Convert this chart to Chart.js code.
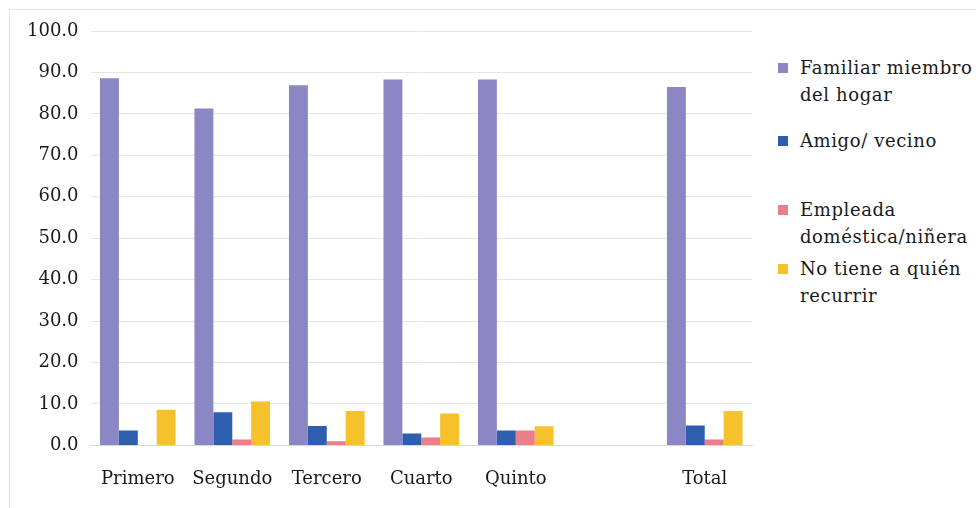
<!DOCTYPE html>
<html>
<head>
<title>Cuidado por quintil</title>
<script src="https://cdn.jsdelivr.net/npm/chart.js"></script>
<style>
  body { margin: 0; background: #fff; overflow: hidden; font-family: "DejaVu Serif", "Liberation Serif", serif; }
  #frame { position: absolute; left: 9px; top: 9px; width: 966px; height: 498px; border: 1px solid #e4e4e4; border-right: none; border-bottom: none; }
  #wrap { position: absolute; left: 0; top: 0; width: 760px; height: 517px; }
  #legend { position: absolute; left: 778px; top: 0; width: 198px; color: #1a1a1a; font-size: 18px; line-height: 27px; letter-spacing: 0.6px; white-space: nowrap; }
  .item { position: absolute; left: 0; padding-left: 22px; }
  .sw { position: absolute; left: 0; top: 9px; width: 10px; height: 10px; }
</style>
</head>
<body>
<div id="frame"></div>
<div id="wrap"><canvas id="chart"></canvas></div>
<div id="legend"></div>
<script>
// quintiles + gap + total
const categories = ['Primero', 'Segundo', 'Tercero', 'Cuarto', 'Quinto', '', 'Total'];
const familiar = [88.6, 81.3, 86.9, 88.3, 88.3, null, 86.5];
const amigo    = [3.6, 8.0, 4.7, 2.9, 3.6, null, 4.8];
const empleada = [0.0, 1.4, 1.0, 1.9, 3.6, null, 1.4];
const nadie    = [8.6, 10.6, 8.3, 7.7, 4.6, null, 8.3];
const seriesNames = [['Familiar miembro', 'del hogar'], ['Amigo/ vecino'], ['Empleada', 'doméstica/niñera'], ['No tiene a quién', 'recurrir']];
const colors = ['#8a87c4', '#2e5fae', '#ea7f8c', '#f6c22b'];
const yTicks = [0, 10, 20, 30, 40, 50, 60, 70, 80, 90, 100];

const series = [familiar, amigo, empleada, nadie];
const legendTops = [54, 127, 196, 255];
const tickFont = { family: 'DejaVu Serif', size: 18 };

const legendEl = document.getElementById('legend');
seriesNames.forEach((name, i) => {
    const div = document.createElement('div');
    div.className = 'item';
    div.style.top = legendTops[i] + 'px';
    div.innerHTML = '<span class="sw" style="background:' + colors[i] + '"></span>' + name.join('<br>');
    legendEl.appendChild(div);
});

new Chart(document.getElementById('chart'), {
    type: 'bar',
    data: {
        labels: categories,
        datasets: series.map((d, i) => ({
            label: seriesNames[i].join(' '),
            data: d,
            backgroundColor: colors[i],
            borderWidth: 0,
            barPercentage: 1,
            categoryPercentage: 0.8
        }))
    },
    options: {
        responsive: true,
        maintainAspectRatio: false,
        animation: false,
        layout: { padding: { top: 31, left: 15, right: 8, bottom: 4 } },
        plugins: { legend: { display: false }, tooltip: { enabled: false } },
        scales: {
            x: {
                grid: { display: false, drawTicks: false },
                border: { color: '#d8d8d8' },
                ticks: { color: '#1a1a1a', padding: 23, maxRotation: 0, font: tickFont }
            },
            y: {
                min: 0,
                max: 100,
                afterBuildTicks: axis => { axis.ticks = yTicks.map(v => ({ value: v })); },
                grid: { color: '#e6e6e6', drawTicks: false },
                border: { display: false },
                ticks: {
                    color: '#1a1a1a',
                    padding: 12,
                    font: tickFont,
                    callback: v => v.toFixed(1)
                }
            }
        }
    }
});
</script>
</body>
</html>
